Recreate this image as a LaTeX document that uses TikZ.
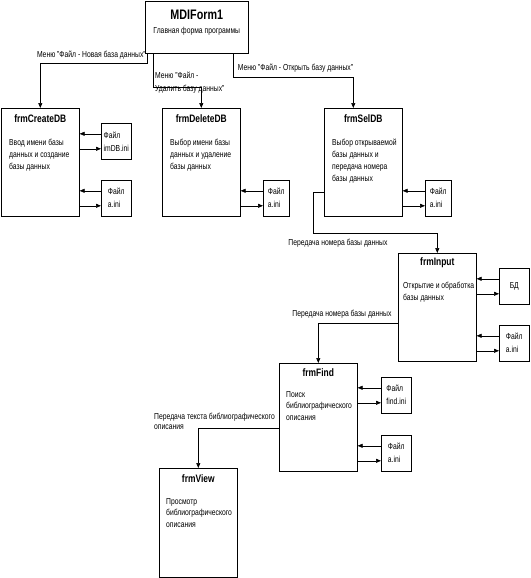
\documentclass[tikz,border=0pt]{standalone}
\usepackage{fontspec}
\setmainfont{Liberation Sans}[FakeStretch=0.78]
\usetikzlibrary{arrows.meta, positioning, calc}

\begin{document}
\begin{tikzpicture}[x=1pt, y=-1pt,
    form/.style={draw, line width=0.6pt, inner sep=0pt, minimum width=78pt, minimum height=108pt, anchor=north west},
    file/.style={draw, line width=0.6pt, inner sep=0pt, minimum width=30pt, minimum height=36pt, anchor=north west, align=left, font=\fontsize{8.7}{13}\selectfont},
    ftitle/.style={font=\bfseries\fontsize{10.8}{12}\selectfont, inner sep=0pt},
    body/.style={font=\fontsize{8.7}{11.8}\selectfont, align=left, anchor=north west, inner sep=0pt},
    lbl/.style={font=\fontsize{8.7}{11}\selectfont, align=left, inner sep=0pt},
    arr/.style={line width=0.6pt, -{Triangle[length=5pt, width=4pt]}}]
    \useasboundingbox (0,0) rectangle (530,578);

    % main form
    \node[form, minimum width=103pt, minimum height=52pt] (mdi) at (145,1) {};
    \node[ftitle, font=\bfseries\fontsize{13.8}{15}\selectfont] (mdit) at ([yshift=-14pt]mdi.north) {MDIForm1};
    \node[lbl] (mdib) at ([yshift=-30pt]mdi.north) {Главная форма программы};

    % forms
    \node[form] (cdb) at (1,108) {};
    \node[ftitle] (cdbt) at ([yshift=-11pt]cdb.north) {frmCreateDB};
    \node[body] (cdbb) at ([shift={(8,31)}]cdb.north west) {Ввод имени базы\\данных и создание\\базы данных};

    \node[form] (ddb) at (162,108) {};
    \node[ftitle] (ddbt) at ([yshift=-11pt]ddb.north) {frmDeleteDB};
    \node[body] (ddbb) at ([shift={(8,31)}]ddb.north west) {Выбор имени базы\\данных и удаление\\базы данных};

    \node[form] (sdb) at (324,108) {};
    \node[ftitle] (sdbt) at ([yshift=-11pt]sdb.north) {frmSelDB};
    \node[body] (sdbb) at ([shift={(8,31)}]sdb.north west) {Выбор открываемой\\базы данных и\\передача номера\\базы данных};

    \node[form] (inp) at (398,253) {};
    \node[ftitle] (inpt) at ([yshift=-10pt]inp.north) {frmInput};
    \node[body] (inpb) at ([shift={(5,29)}]inp.north west) {Открытие и обработка\\базы данных};

    \node[form] (fnd) at (279,363) {};
    \node[ftitle] (fndt) at ([yshift=-10pt]fnd.north) {frmFind};
    \node[body] (fndb) at ([shift={(7,28)}]fnd.north west) {Поиск\\библиографического\\описания};

    \node[form, minimum height=109pt] (vw) at (159,468) {};
    \node[ftitle] (vwt) at ([yshift=-11pt]vw.north) {frmView};
    \node[body] (vwb) at ([shift={(7,30)}]vw.north west) {Просмотр\\библиографического\\описания};

    % files
    \node[file] (fa) at (101,123) {Файл\\imDB.ini};
    \node[file] (fb) at (101,180) {Файл\\a.ini};
    \node[file, minimum width=26pt] (fc) at (263,180) {Файл\\a.ini};
    \node[file, minimum width=26pt] (fd) at (425,180) {Файл\\a.ini};
    \node[file] (fe) at (499,268) {БД};
    \node[file] (ff) at (499,325) {Файл\\a.ini};
    \node[file] (fg) at (381,377) {Файл\\find.ini};
    \node[file] (fh) at (381,435) {Файл\\a.ini};

    \foreach \f/\b in {fa/cdb, fb/cdb, fc/ddb, fd/sdb, fe/inp, ff/inp, fg/fnd, fh/fnd} {
        \draw[arr] ([yshift=7.5pt]\f.west) -- ([yshift=7.5pt]\f.west -| \b.east);
        \draw[arr] ([yshift=-7.5pt]\f.west -| \b.east) -- ([yshift=-7.5pt]\f.west);
    }

    % menu commands
    \draw[arr] ([xshift=2pt]mdi.south west) -- ++(0,10)
        node[lbl, above left=4pt and 1pt] {Меню "Файл - Новая база данных"} -| (cdb.north);
    \draw[arr] ([xshift=8pt]mdi.south west) -- ++(0,34) -| (ddb.north);
    \node[lbl, anchor=north west] (l2) at (155,72) {Меню "Файл -\\[2pt]Удалить базу данных"};
    \draw[arr] ([xshift=-15pt]mdi.south east) -- ++(0,24)
        node[lbl, above right=5pt and 4pt] {Меню "Файл - Открыть базу данных"} -| ([xshift=-10pt]sdb.north);

    % data flow
    \draw[arr] ([yshift=-30pt]sdb.west) -- ++(-11,0) -- ++(0,41) -| (inp.north);
    \node[lbl] (l4) at (338,243) {Передача номера базы данных};
    \draw[arr] ([yshift=-16pt]inp.west) -| (fnd.north);
    \node[lbl] (l5) at (342,314) {Передача номера базы данных};
    \draw[arr] ([yshift=-11pt]fnd.west) -| (vw.north);
    \node[lbl, anchor=north west, font=\fontsize{8.7}{10}\selectfont] (l6) at (154,413) {Передача текста библиографического\\описания};
\end{tikzpicture}
\end{document}
